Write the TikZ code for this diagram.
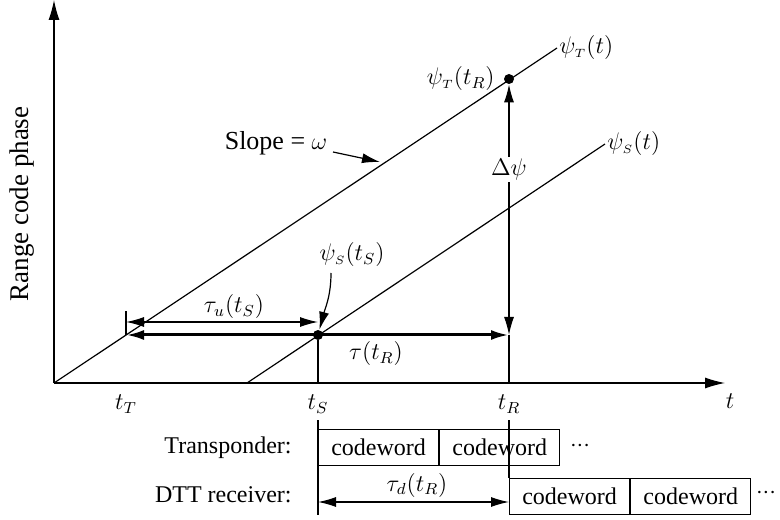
\documentclass[tikz,border=0pt]{standalone}
\usepackage{amsmath}
\usepackage{fontspec}
\setmainfont{Liberation Serif}
\usetikzlibrary{arrows.meta, positioning}

\begin{document}
\begin{tikzpicture}[x=0.5pt, y=0.5pt,
    font=\rmfamily\fontsize{12}{14}\selectfont,
    line/.style={draw=black, line width=0.6pt},
    axis/.style={line, -{Latex[length=10pt, width=5.5pt]}},
    arr/.style={line, -{Latex[length=9pt, width=5pt]}},
    dblarr/.style={line, {Latex[length=9pt, width=5pt]}-{Latex[length=9pt, width=5pt]}},
    thickarr/.style={dblarr, line width=1.5pt},
    dot/.style={circle, fill=black, inner sep=0pt, minimum size=5pt},
    cw/.style={rectangle, draw=black, line width=0.6pt, minimum width=60pt, minimum height=18pt, inner sep=0pt},
    more/.style={inner sep=0pt}]

    \useasboundingbox (0,0) rectangle (780,519);

    % axes
    \coordinate (O) at (54,136);
    \coordinate (ytop) at (54,519);
    \coordinate (xend) at (725,136);
    \draw [axis] (O) -- (ytop);
    \draw [axis] (O) -- (xend);
    \node [rotate=90, font=\rmfamily\fontsize{13.5}{16}\selectfont] (ylab) at (22,315) {Range code phase};

    % phase lines
    \coordinate (Tend) at (557,471);
    \coordinate (S0) at (247,136);
    \coordinate (Send) at (605,375);
    \draw [line] (O) -- (Tend);
    \draw [line] (S0) -- (Send);
    \node [right, inner sep=1pt] (psiT) at (Tend) {$\psi_{\scriptscriptstyle T}(t)$};
    \node [right, inner sep=1pt] (psiS) at (Send) {$\psi_{\scriptscriptstyle S}(t)$};

    \node [dot] (dR) at (509,440) {};
    \node [dot] (dS) at (318,184) {};
    \node [left=1pt of dR] (psiTR) {$\psi_{\scriptscriptstyle T}(t_R)$};
    \node (psiSS) at (352,264) {$\psi_{\scriptscriptstyle S}(t_S)$};
    \draw [arr] (331,246) to[out=-90, in=75] (dS);

    \node [font=\rmfamily\fontsize{13}{15}\selectfont] (slope) at (276,376) {Slope = $\omega$};
    \draw [arr] (333,367) -- (380,357);

    % delays
    \coordinate (uT) at (126,184);
    \coordinate (uTtop) at (126,208);
    \coordinate (uL) at (126,197);
    \coordinate (uR) at (318,197);
    \coordinate (R) at (509,184);
    \draw [line] (uT) -- (uTtop);
    \draw [dblarr] (uL) -- (uR);
    \node (tauu) at (234,212) {$\tau_u(t_S)$};
    \draw [thickarr] (uT) -- (R);
    \node (tau) at (376,165) {$\tau(t_R)$};
    \draw [dblarr] (R) -- (dR.south) node [pos=0.66, fill=white, inner sep=1pt] (dpsi) {$\Delta\psi$};

    \draw [line] (dS) -- (318,136);
    \draw [line] (R) -- (509,136);

    % tick labels
    \node (tT) at (126,115) {$t_T$};
    \node (tS) at (318,115) {$t_S$};
    \node (tR) at (509,115) {$t_R$};
    \node (t) at (730,118) {$t$};

    % codewords
    \node [cw, anchor=south west] (c1) at (318,53) {codeword};
    \node [cw, right=0pt of c1] (c2) {codeword};
    \node [more] (cdots) at (580,73) {${\cdot}{\cdot}{\cdot}$};
    \node [cw, anchor=south west] (d1) at (509,4) {codeword};
    \node [cw, right=0pt of d1] (d2) {codeword};
    \node [more] (ddots) at (766,26) {${\cdot}{\cdot}{\cdot}$};
    \node [anchor=east, inner sep=0pt] (trlab) at (292,71) {Transponder:};
    \node [anchor=east, inner sep=0pt] (dttlab) at (292,24) {DTT receiver:};

    \draw [line] (tS.south) -- (318,4);
    \draw [line] (tR.south) -- (d1.north west);
    \coordinate (dL) at (318,17);
    \coordinate (dRr) at (509,17);
    \draw [dblarr] (dL) -- (dRr);
    \node (taud) at (417,34) {$\tau_d(t_R)$};
\end{tikzpicture}
\end{document}
